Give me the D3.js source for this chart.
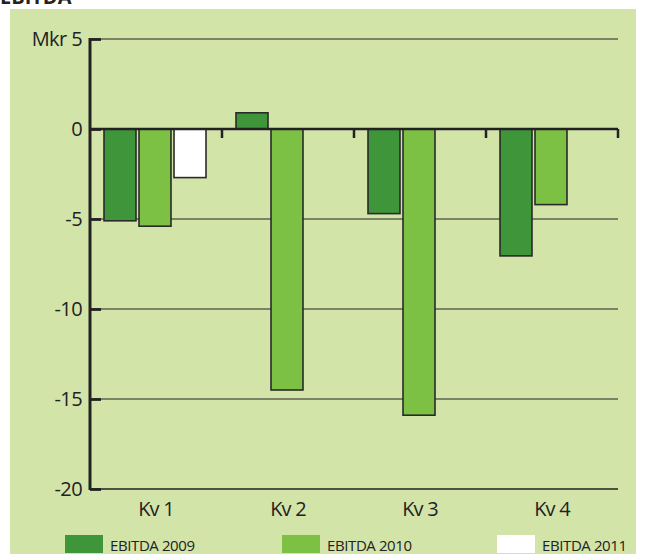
<!DOCTYPE html>
<html><head><meta charset="utf-8">
<script src="https://cdn.jsdelivr.net/npm/d3@7"></script>
<style>body{margin:0;background:#fff;} svg{display:block;} text{font-family:"Open Sans",sans-serif;}</style>
</head><body>
<svg id="c" width="645" height="554"></svg>
<script>
const categories = ["Kv 1","Kv 2","Kv 3","Kv 4"];
const series = ["EBITDA 2009","EBITDA 2010","EBITDA 2011"];
const values2009 = [-5.1, 0.9, -4.7, -7.05];
const values2010 = [-5.4, -14.5, -15.9, -4.2];
const values2011 = [-2.7, null, null, null];
const yTicks = [5, 0, -5, -10, -15, -20];
const colors = ["#3f953a", "#7cc143", "#ffffff"];

const svg = d3.select("#c");
svg.append("rect").attr("x",10).attr("y",9).attr("width",626).attr("height",545).attr("fill","#d3e4a9");
svg.append("text").attr("x",0).attr("y",4).attr("font-weight","bold").attr("font-size",20).attr("fill","#222").text("EBITDA");

const x0 = d3.scaleBand().domain(categories).range([90,618]);
const x1 = d3.scaleBand().domain(series).range([14,116]).paddingInner(0.086);
const y = d3.scaleLinear().domain([-20,5]).range([489,39]);

// gridlines
svg.append("g").selectAll("line").data(yTicks.filter(t=>t!==0 && t!==-20)).join("line")
  .attr("x1",90).attr("x2",618).attr("y1",d=>y(d)).attr("y2",d=>y(d))
  .attr("stroke","#222").attr("stroke-width",1.2);

const allVals = [values2009, values2010, values2011];
const data = [];
categories.forEach((c,i)=>series.forEach((s,j)=>{ if(allVals[j][i]!=null) data.push({c,s,v:allVals[j][i],j}); }));

svg.append("g").selectAll("rect").data(data).join("rect")
  .attr("x",d=>x0(d.c)+x1(d.s)).attr("width",x1.bandwidth())
  .attr("y",d=>y(Math.max(0,d.v))).attr("height",d=>Math.abs(y(d.v)-y(0)))
  .attr("fill",d=>colors[d.j]).attr("stroke","#2a2a2a").attr("stroke-width",1.6);

// zero axis with ticks at band boundaries
svg.append("line").attr("x1",90).attr("x2",618).attr("y1",y(0)).attr("y2",y(0)).attr("stroke","#222").attr("stroke-width",2.5);
svg.append("g").selectAll("line").data(categories.slice(1).concat(["end"])).join("line")
  .attr("x1",d=>d==="end"?618:x0(d)).attr("x2",d=>d==="end"?618:x0(d))
  .attr("y1",y(0)).attr("y2",y(0)+9).attr("stroke","#222").attr("stroke-width",2.5);
// bottom line
svg.append("line").attr("x1",90).attr("x2",618).attr("y1",y(-20)).attr("y2",y(-20)).attr("stroke","#222").attr("stroke-width",1.5);

// y axis (ticks pointing inward)
const yAxis = d3.axisLeft(y).tickValues(yTicks).tickSize(-11).tickPadding(19).tickFormat(d=>d===5?"Mkr 5":String(d));
const ga = svg.append("g").attr("transform","translate(90,0)").call(yAxis);
ga.select(".domain").attr("stroke","#222").attr("stroke-width",3).attr("d","M0,"+(y(5)-1)+"V"+(y(-20)+1));
ga.selectAll(".tick line").attr("stroke","#222").attr("stroke-width",2.8);
ga.selectAll(".tick text").attr("font-size",20).attr("fill","#222").attr("x",-8).attr("font-family","'Open Sans',sans-serif").attr("letter-spacing",-0.6);

// category labels
svg.append("g").selectAll("text").data(categories).join("text")
  .attr("x",d=>x0(d)+x0.bandwidth()/2).attr("y",516).attr("text-anchor","middle")
  .attr("font-size",20).attr("fill","#222").attr("letter-spacing",-0.8).text(d=>d);

// legend
const legX = [65,282,497];
const lg = svg.append("g").selectAll("g").data(series).join("g").attr("transform",(d,i)=>`translate(${legX[i]},535)`);
lg.append("rect").attr("width",38).attr("height",18).attr("fill",(d,i)=>colors[i]);
lg.append("text").attr("x",45).attr("y",16).attr("font-size",15).attr("fill","#222").attr("letter-spacing",-0.4).text(d=>d);
</script>
</body></html>
